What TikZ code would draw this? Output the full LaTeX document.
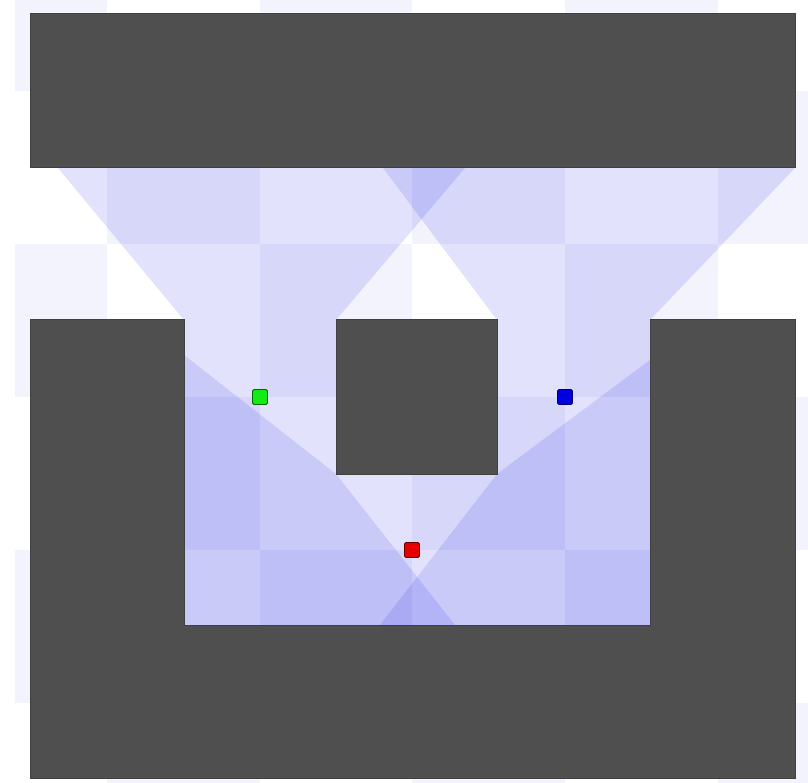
\documentclass[tikz,border=0pt]{standalone}
\usepackage{tikz}

\definecolor{blockgray}{RGB}{79,79,79}
\definecolor{tilepale}{RGB}{243,243,253}
\definecolor{fovblue}{RGB}{20,20,230}

\begin{document}
\begin{tikzpicture}[
  x=1pt, y=-1pt,
  tile/.style={fill=tilepale},
  fov/.style={fill=fovblue, fill opacity=0.12},
  obstacle/.style={fill=blockgray, draw=black!75, line width=1pt},
  agent/.style={rectangle, rounded corners=1.5pt, minimum size=15pt, inner sep=0pt, line width=0.8pt}
]
  \useasboundingbox (0,0) rectangle (808,783);

  % Background tiles
  \foreach \r/\ya/\yb in {0/0/91, 1/91/244, 2/244/397, 3/397/550, 4/550/703, 5/703/783} {
    \foreach \c/\xa/\xb in {0/15/107, 1/107/260, 2/260/412, 3/412/565, 4/565/718, 5/718/808} {
      \pgfmathtruncatemacro{\tileparity}{mod(\r+\c,2)}
      \ifnum\tileparity=0 \fill[tile] (\xa,\ya) rectangle (\xb,\yb); \fi
    }
  }

  % Obstacle corners
  \coordinate (lc) at (184,320);
  \coordinate (rc) at (650,320);
  \coordinate (mtl) at (336,320);
  \coordinate (mtr) at (497,320);
  \coordinate (mbl) at (336,474);
  \coordinate (mbr) at (497,474);
  \coordinate (fl) at (184,625);
  \coordinate (fr) at (650,625);

  % Where the view rays end
  \coordinate (gtop1) at (58,168);
  \coordinate (gtop2) at (465,168);
  \coordinate (gbot) at (455,625);
  \coordinate (btop1) at (795,168);
  \coordinate (btop2) at (383,168);
  \coordinate (bbot) at (380,625);
  \coordinate (rwall1) at (184,355);
  \coordinate (rwall2) at (650,360);

  % Visibility regions
  \fill[fov] (lc) -- (gtop1) -- (gtop2) -- (mtl) -- (mbl) -- (gbot) -- (fl) -- cycle;
  \fill[fov] (rc) -- (btop1) -- (btop2) -- (mtr) -- (mbr) -- (bbot) -- (fr) -- cycle;
  \fill[fov] (rwall1) -- (mbl) -- (mbr) -- (rwall2) -- (fr) -- (fl) -- cycle;

  % Obstacles
  \draw[obstacle] (30,14) rectangle (795,168);
  \draw[obstacle] (30,320) -- (lc) -- (fl) -- (fr) -- (rc) -- (795,320) -- (795,778) -- (30,778) -- cycle;
  \draw[obstacle] (mtl) rectangle (mbr);

  % Agents
  \node[agent, fill={rgb,255:red,20;green,235;blue,20}, draw=green!40!black] (green) at (260,397) {};
  \node[agent, fill={rgb,255:red,0;green,0;blue,225}, draw=blue!40!black] (blue) at (565,397) {};
  \node[agent, fill={rgb,255:red,230;green,0;blue,0}, draw=red!40!black] (red) at (412,550) {};

\end{tikzpicture}
\end{document}
